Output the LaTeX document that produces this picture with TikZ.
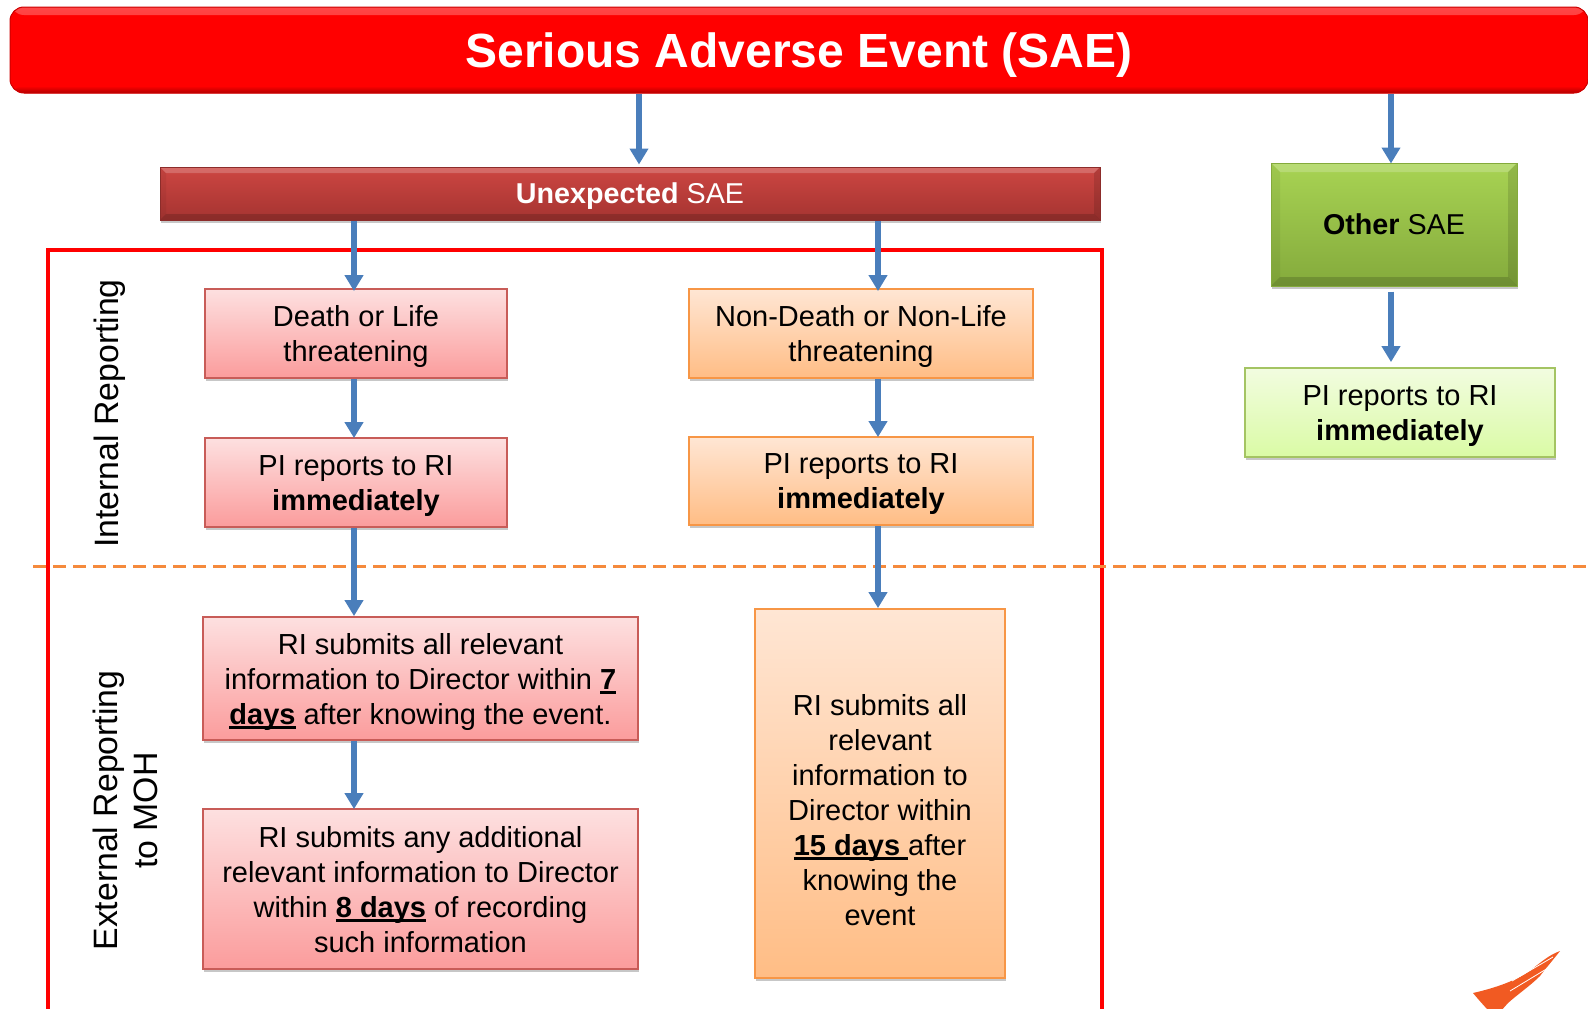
\documentclass[tikz,border=0pt]{standalone}
\usepackage{fontspec}
\setmainfont{Liberation Sans}
\usetikzlibrary{arrows.meta,shadows,calc}
\definecolor{arrowblue}{HTML}{4A7EBB}
\definecolor{dashor}{HTML}{F58A3C}
\definecolor{redborder}{HTML}{C85C58}
\definecolor{orborder}{HTML}{F79646}
\definecolor{grborder}{HTML}{A4C463}
\definecolor{logoor}{HTML}{F15A22}
\definecolor{redtop}{HTML}{FDE0E0}
\definecolor{redbot}{HTML}{FB9C9C}
\definecolor{ortop}{HTML}{FFE6D4}
\definecolor{orbot}{HTML}{FFBD85}
\definecolor{grtop}{HTML}{F2FCE0}
\definecolor{grbot}{HTML}{DAFBA5}
\definecolor{unexptop}{HTML}{CD4642}
\definecolor{unexpbot}{HTML}{A53431}
\definecolor{othertop}{HTML}{A8D353}
\definecolor{otherbot}{HTML}{84AA3C}
\newsavebox{\ulbox}
\newcommand{\ul}[1]{\sbox{\ulbox}{#1}\usebox{\ulbox}\llap{\rule[-4pt]{\wd\ulbox}{2.6pt}}}
\newcommand{\dr}[1]{\rule{0pt}{#1pt}}
\tikzset{
  x=1pt,y=-1pt,
  basebox/.style={rectangle,inner sep=0pt,align=center,text=black,font=\fontsize{29}{35}\selectfont,
    line width=1.8pt,drop shadow={shadow xshift=1pt,shadow yshift=-3pt,fill=black,opacity=0.22}},
  redbox/.style={basebox,draw=redborder,top color=redtop,bottom color=redbot},
  orbox/.style={basebox,draw=orborder,top color=ortop,bottom color=orbot},
  grbox/.style={basebox,draw=grborder,top color=grtop,bottom color=grbot},
  bevel/.style={path picture={
    \coordinate (pNW) at (path picture bounding box.north west);
    \coordinate (pNE) at (path picture bounding box.north east);
    \coordinate (pSW) at (path picture bounding box.south west);
    \coordinate (pSE) at (path picture bounding box.south east);
    \fill[white,opacity=0.2] (pNW) -- (pNE) -- ($(pNE)+(-#1,#1)$) -- ($(pNW)+(#1,#1)$) -- cycle;
    \fill[black,opacity=0.16] (pSW) -- (pSE) -- ($(pSE)+(-#1,-#1)$) -- ($(pSW)+(#1,-#1)$) -- cycle;
    \fill[black,opacity=0.05] (pNW) -- (pSW) -- ($(pSW)+(#1,-#1)$) -- ($(pNW)+(#1,#1)$) -- cycle;
    \fill[black,opacity=0.12] (pNE) -- (pSE) -- ($(pSE)+(-#1,-#1)$) -- ($(pNE)+(-#1,#1)$) -- cycle;
  }},
  flow/.style={draw=arrowblue,line width=5.5pt,-{Triangle[width=18pt,length=16pt]}},
  sidelabel/.style={rotate=90,align=center,font=\fontsize{33.8}{40}\selectfont,inner sep=0pt},
}
\begin{document}
\begin{tikzpicture}
\clip (0,0) rectangle (1588,1009);
\path[fill=white] (0,0) rectangle (1588,1009);

% frame and separator
\coordinate (frameBL) at (48,1030);
\coordinate (frameTR) at (1102,250);
\draw[red,line width=4pt] (frameBL) rectangle (frameTR);
\coordinate (dashL) at (33,566);
\coordinate (dashR) at (1588,566);
\draw[dashor,line width=3pt,dash pattern=on 13pt off 7pt] (dashL) -- (dashR);

% title
\node[rectangle,rounded corners=14pt,inner sep=0pt,minimum width=1578pt,minimum height=86pt,
  fill=red,draw=red!80!black,line width=1pt,text=white,
  font=\fontsize{48}{50}\selectfont\bfseries,
  path picture={
    \fill[top color=red!72!white,bottom color=red] (path picture bounding box.north west) rectangle ($(path picture bounding box.north east)+(0,8)$);
    \fill[top color=red,bottom color=red!70!black] ($(path picture bounding box.south west)+(0,-7)$) rectangle (path picture bounding box.south east);
  }] (title) at (799,50) {\dr{44}Serious Adverse Event (SAE)};

% header boxes
\node[basebox,font=\fontsize{28.7}{35}\selectfont,draw=unexpbot!85!black,line width=1pt,minimum width=940pt,minimum height=53pt,text=white,
  top color=unexptop,bottom color=unexpbot,bevel=6] (unexp) at (630,193.5) {\dr{25.5}\textbf{Unexpected} SAE};
\node[basebox,font=\fontsize{28.7}{35}\selectfont,draw=otherbot,line width=1pt,minimum width=246pt,minimum height=123pt,
  top color=othertop,bottom color=otherbot,bevel=9] (other) at (1394,224.5) {\textbf{Other} SAE};

% left column
\node[redbox,minimum width=302pt,minimum height=89pt] (death) at (356,333.5) {\dr{27}Death or Life\\threatening};
\node[redbox,minimum width=302pt,minimum height=89pt] (pia) at (356,482.5) {\dr{27}PI reports to RI\\\textbf{immediately}};
\node[redbox,minimum width=435pt,minimum height=123pt] (riseven) at (420.5,678.5) {\dr{29}RI submits all relevant\\information to Director within \textbf{\ul{7}}\\\textbf{\ul{days}} after knowing the event.};
\node[redbox,minimum width=435pt,minimum height=160pt] (rieight) at (420.5,889) {\dr{23}RI submits any additional\\relevant information to Director\\within \textbf{\ul{8 days}} of recording\\such information};

% middle column
\node[orbox,minimum width=344pt,minimum height=89pt] (nondeath) at (861,333.5) {\dr{27}Non-Death or Non-Life\\threatening};
\node[orbox,minimum width=344pt,minimum height=88pt] (pib) at (861,481) {\dr{27}PI reports to RI\\\textbf{immediately}};
\node[orbox,minimum width=250pt,minimum height=369pt] (rififteen) at (880,793.5) {\dr{55}RI submits all\\relevant\\information to\\Director within\\\textbf{\ul{15 days\ }}after\\knowing the\\event};

% right column
\node[grbox,minimum width=310pt,minimum height=89pt] (pic) at (1400,412.5) {\dr{27}PI reports to RI\\\textbf{immediately}};

% side labels
\node[sidelabel] (internal) at (109.5,413.5) {Internal Reporting};
\node[sidelabel] (external) at (125.5,810.5) {External Reporting\\to MOH};

% connectors
\coordinate (xa) at (639,0);
\coordinate (xb) at (1391,0);
\coordinate (xc) at (354,0);
\coordinate (xd) at (878,0);
\draw[flow,shorten >=2pt] (title.south -| xa) -- (unexp.north -| xa);
\draw[flow,shorten >=-1pt] (title.south -| xb) -- (other.north -| xb);
\draw[flow,shorten >=-3pt] (unexp.south -| xc) -- (death.north -| xc);
\draw[flow,shorten >=-3pt] (unexp.south -| xd) -- (nondeath.north -| xd);
\draw[flow,shorten >=-1pt] (death.south -| xc) -- (pia.north -| xc);
\draw[flow,shorten >=-1pt] (nondeath.south -| xd) -- (pib.north -| xd);
\draw[flow] (pia.south -| xc) -- (riseven.north -| xc);
\draw[flow] (pib.south -| xd) -- (rififteen.north -| xd);
\draw[flow,shorten >=-1pt] (riseven.south -| xc) -- (rieight.north -| xc);
\draw[flow,shorten <=5pt,shorten >=5pt] (other.south -| xb) -- (pic.north -| xb);

% brush-stroke logo
\fill[logoor] (1473,993) .. controls (1495,988) and (1520,980) .. (1536,966)
  .. controls (1546,958) and (1552,954) .. (1560,951)
  .. controls (1553,960) and (1546,968) .. (1540,976)
  .. controls (1530,986) and (1518,994) .. (1508,1003)
  -- (1500,1012) -- (1490,1012) .. controls (1484,1006) and (1478,999) .. (1473,993) -- cycle;
\draw[white,line width=0.8pt] (1510,991) -- (1548,968);
\draw[white,line width=0.8pt] (1512,981) -- (1553,957);
\end{tikzpicture}
\end{document}
